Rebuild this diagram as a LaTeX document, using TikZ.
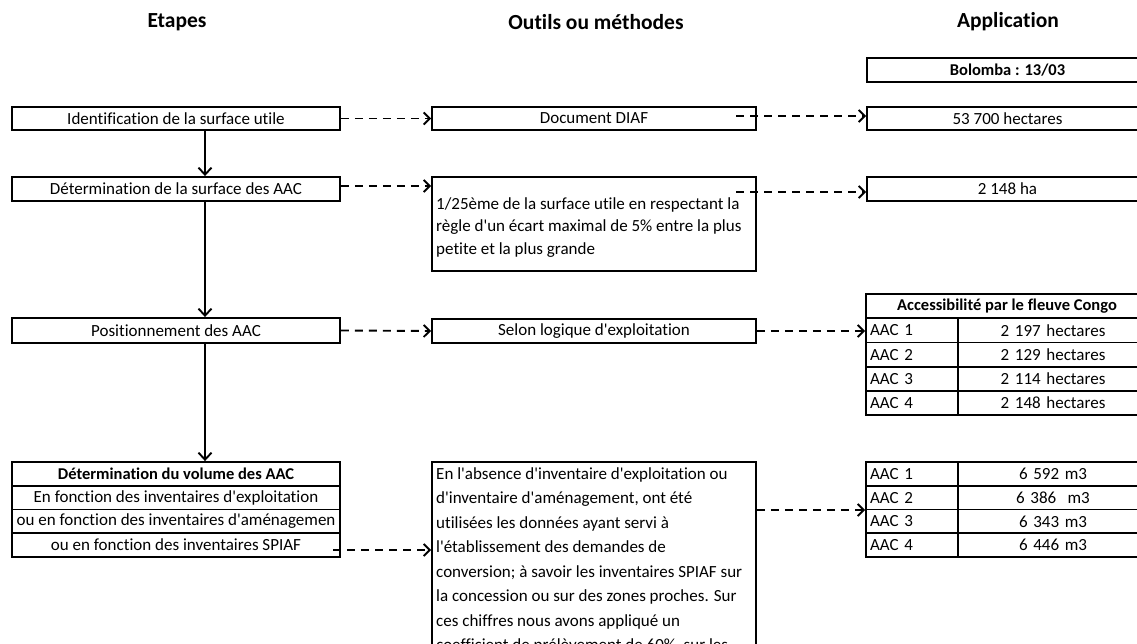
\documentclass[tikz,border=0pt]{standalone}
\usepackage{fontspec}
\setmainfont{Carlito}[Ligatures={CommonOff,TeXOff}]
\usetikzlibrary{arrows.meta}
\begin{document}
\begin{tikzpicture}[x=1pt,y=-1pt,
  box/.style={draw, line width=1.9pt, inner sep=0pt, font=\fontsize{17}{20}\selectfont},
  bbox/.style={box, font=\bfseries\fontsize{16.5}{20}\selectfont},
  cellL/.style={box, text width=84pt, inner xsep=4pt, align=left, minimum height=24.2pt},
  cellR/.style={box, text width=184pt, inner xsep=3pt, align=center, minimum height=24.2pt},
  hdr/.style={font=\bfseries\fontsize{21.5}{24}\selectfont},
  solidarr/.style={line width=1.9pt, -{Straight Barb[length=7pt,width=13pt]}},
  dasharr/.style={line width=1.9pt, dash pattern=on 8pt off 6pt, -{Straight Barb[length=6pt,width=12pt]}},
]
\clip (0,0) rectangle (1137,644);
\fill[white] (0,0) rectangle (1137,644);

% headers
\node[hdr] (h1) at (177,22) {Etapes};
\node[hdr] (h2) at (596,22) {Outils ou méthodes};
\node[hdr] (h3) at (1008,22) {Application};

% left column
\node[box, minimum width=328pt, minimum height=23pt] (id) at (176,118.5) {Identification de la surface utile};
\node[box, minimum width=328pt, minimum height=24pt] (det) at (176,189) {Détermination de la surface des AAC};
\node[box, minimum width=328pt, minimum height=25pt] (pos) at (176,330.5) {Positionnement des AAC};
\node[bbox, minimum width=328pt, minimum height=23.75pt] (vol1) at (176,473.9) {Détermination du volume des AAC};
\node[box, minimum width=328pt, minimum height=23.75pt] (vol2) at (176,497.6) {En fonction des inventaires d'exploitation};
\node[box, minimum width=328pt, minimum height=23.75pt] (vol3) at (176,521.4) {ou en fonction des inventaires d'aménagemen};
\node[box, minimum width=328pt, minimum height=23.75pt] (vol4) at (176,545.1) {ou en fonction des inventaires SPIAF};

% middle column
\node[box, minimum width=324pt, minimum height=23pt] (diaf) at (594,118.5) {Document DIAF};
\node[box, minimum width=324pt, minimum height=94pt] (r25) at (594,224) {};
\node[anchor=west, inner sep=0pt, align=left, font=\fontsize{17}{22.5}\selectfont] (r25txt) at (436,227.5)
  {1/25ème de la surface utile en respectant la\\règle d'un écart maximal de 5\% entre la plus\\petite et la plus grande};
\node[box, minimum width=324pt, minimum height=24pt] (selon) at (594,331) {Selon logique d'exploitation};
\node[box, minimum width=324pt, minimum height=240pt] (big) at (594,582) {};
\node[anchor=north west, inner sep=0pt, align=left, font=\fontsize{17}{24.5}\selectfont] (bigtxt) at (436,467)
  {En l'absence d'inventaire d'exploitation ou\\
   d'inventaire d'aménagement, ont été\\
   utilisées les données ayant servi à\\
   l'établissement des demandes de\\
   conversion; à savoir les inventaires SPIAF sur\\
   la concession ou sur des zones proches. Sur\\
   ces chiffres nous avons appliqué un\\
   coefficient de prélèvement de 60\%\ \ sur les};

% right column
\node[bbox, minimum width=281pt, minimum height=24pt] (bol) at (1007.5,70) {Bolomba : 13/03};
\node[box, minimum width=281pt, minimum height=23pt] (ha53) at (1007.5,118.5) {53 700 hectares};
\node[box, minimum width=281pt, minimum height=24pt] (ha2148) at (1007.5,189) {2 148 ha};

\node[bbox, minimum width=282pt, minimum height=24pt] (t1h) at (1007,306) {Accessibilité par le fleuve Congo};
\node[cellL] (t1r1a) at (912,330.4) {AAC 1};
\node[cellR] (t1r1b) at (1053,330.4) {2 197 hectares};
\node[cellL] (t1r2a) at (912,354.6) {AAC 2};
\node[cellR] (t1r2b) at (1053,354.6) {2 129 hectares};
\node[cellL] (t1r3a) at (912,378.8) {AAC 3};
\node[cellR] (t1r3b) at (1053,378.8) {2 114 hectares};
\node[cellL] (t1r4a) at (912,403) {AAC 4};
\node[cellR] (t1r4b) at (1053,403) {2 148 hectares};

\node[cellL, minimum height=23.75pt] (t2r1a) at (912,473.9) {AAC 1};
\node[cellR, minimum height=23.75pt] (t2r1b) at (1053,473.9) {6 592 m3};
\node[cellL, minimum height=23.75pt] (t2r2a) at (912,497.6) {AAC 2};
\node[cellR, minimum height=23.75pt] (t2r2b) at (1053,497.6) {6 386\ \ m3};
\node[cellL, minimum height=23.75pt] (t2r3a) at (912,521.4) {AAC 3};
\node[cellR, minimum height=23.75pt] (t2r3b) at (1053,521.4) {6 343 m3};
\node[cellL, minimum height=23.75pt] (t2r4a) at (912,545.1) {AAC 4};
\node[cellR, minimum height=23.75pt] (t2r4b) at (1053,545.1) {6 446 m3};

% solid arrows
\coordinate (ax) at (205,0);
\draw[solidarr] (id.south -| ax) -- (det.north -| ax);
\draw[solidarr] (det.south -| ax) -- (pos.north -| ax);
\draw[solidarr] (pos.south -| ax) -- (vol1.north -| ax);

% dashed arrows
\draw[dasharr] (id.east) -- (diaf.west);
\coordinate (y2) at (0,186);
\draw[dasharr] (det.east |- y2) -- (r25.west |- y2);
\draw[dasharr] (pos.east) -- (selon.west);
\coordinate (s4) at (333,550);
\draw[dasharr] (s4) -- (big.west |- s4);
\coordinate (s5) at (736,116);
\draw[dasharr] (s5) -- (ha53.west |- s5);
\coordinate (s6) at (736,192);
\draw[dasharr] (s6) -- (ha2148.west |- s6);
\draw[dasharr] (selon.east) -- (t1r1a.west |- selon.east);
\coordinate (y8) at (0,510);
\draw[dasharr] (big.east |- y8) -- (t2r2a.west |- y8);
\end{tikzpicture}
\end{document}
